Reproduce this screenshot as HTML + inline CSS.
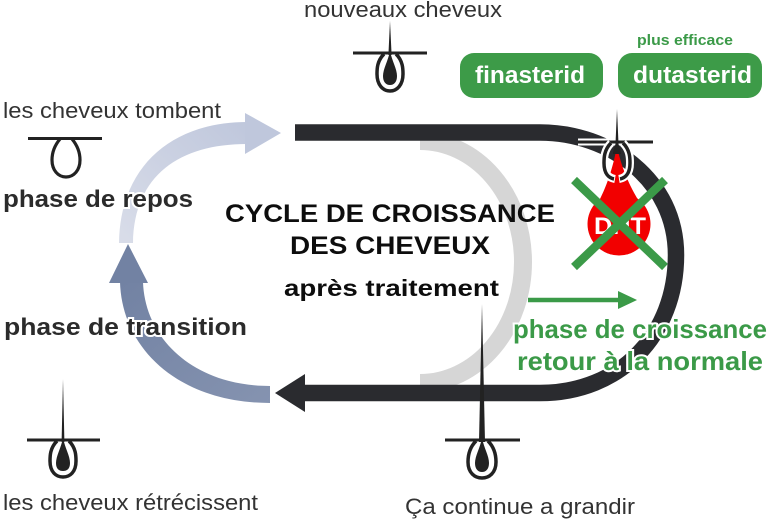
<!DOCTYPE html>
<html><head><meta charset="utf-8"><style>
html,body{margin:0;padding:0;background:#fff;}
svg{display:block;}
text{font-family:"Liberation Sans",sans-serif;}
</style></head><body>
<svg width="771" height="524" viewBox="0 0 771 524" xmlns="http://www.w3.org/2000/svg">
<defs>
<linearGradient id="lb" x1="0" y1="1" x2="1" y2="0">
<stop offset="0" stop-color="#d9dde9"/><stop offset="1" stop-color="#bfc7dc"/>
</linearGradient>
<linearGradient id="db" x1="0" y1="0" x2="1" y2="1">
<stop offset="0" stop-color="#7282a3"/><stop offset="1" stop-color="#8593b0"/>
</linearGradient>
</defs>

<!-- gray inner arc -->
<path d="M420,141 A103,121 0 0 1 420,383" fill="none" stroke="#d6d6d6" stroke-width="18"/>

<!-- black track -->
<path d="M295,132.5 L540,132.5 C610,132.5 676,180 676,255 C676,335 620,393 540,393 L303,393" fill="none" stroke="#2a2b2f" stroke-width="16.5"/>
<polygon points="275,393 305,374 305,412" fill="#2a2b2f"/>

<!-- light blue arc -->
<path d="M119,243 C120,166 172,122 247,122 L247,144 C180,144 134,175 133,243 Z" fill="url(#lb)"/>
<polygon points="245,113 281,133 245,154" fill="#bfc7dc"/>

<!-- dark blue arc -->
<path d="M120,282 C122,350 180,403 270,403 L270,386 C195,386 145,340 143,282 Z" fill="url(#db)"/>
<polygon points="128,244 109,283 148,283" fill="#7282a3"/>

<!-- texts -->
<text x="304" y="17" font-size="22" fill="#333" textLength="198" lengthAdjust="spacingAndGlyphs">nouveaux cheveux</text>
<text x="3" y="118" font-size="22" fill="#333" textLength="218" lengthAdjust="spacingAndGlyphs">les cheveux tombent</text>
<text x="3" y="207" font-size="24" font-weight="bold" fill="#2b2b2b" stroke="#fff" stroke-width="4" paint-order="stroke" textLength="190" lengthAdjust="spacingAndGlyphs">phase de repos</text>
<text x="4" y="335" font-size="24" font-weight="bold" fill="#2b2b2b" stroke="#fff" stroke-width="4" paint-order="stroke" textLength="243" lengthAdjust="spacingAndGlyphs">phase de transition</text>
<text x="3" y="510" font-size="22" fill="#333" textLength="255" lengthAdjust="spacingAndGlyphs">les cheveux rétrécissent</text>
<text x="405" y="514" font-size="22" fill="#333" textLength="230" lengthAdjust="spacingAndGlyphs">Ça continue a grandir</text>

<text x="225" y="222" font-size="25" font-weight="bold" fill="#0d0d0d" textLength="330" lengthAdjust="spacingAndGlyphs">CYCLE DE CROISSANCE</text>
<text x="290" y="254" font-size="25" font-weight="bold" fill="#0d0d0d" textLength="200" lengthAdjust="spacingAndGlyphs">DES CHEVEUX</text>
<text x="284" y="296" font-size="23" font-weight="bold" fill="#0d0d0d" textLength="215" lengthAdjust="spacingAndGlyphs">après traitement</text>

<text x="513" y="338" font-size="26" font-weight="bold" fill="#3b9a48" stroke="#fff" stroke-width="4" paint-order="stroke" textLength="254" lengthAdjust="spacingAndGlyphs">phase de croissance</text>
<text x="517" y="370" font-size="26" font-weight="bold" fill="#3b9a48" stroke="#fff" stroke-width="4" paint-order="stroke" textLength="246" lengthAdjust="spacingAndGlyphs">retour à la normale</text>

<!-- green arrow -->
<line x1="528" y1="300" x2="622" y2="300" stroke="#3b9a48" stroke-width="4.5"/>
<polygon points="618,291 637,300 618,309" fill="#3b9a48"/>

<!-- buttons -->
<text x="637" y="45" font-size="15" font-weight="bold" fill="#3b9a48" textLength="96" lengthAdjust="spacingAndGlyphs">plus efficace</text>
<rect x="460" y="53" width="143" height="45" rx="14" fill="#3d9b48"/>
<rect x="618" y="53" width="144" height="45" rx="14" fill="#3d9b48"/>
<text x="475" y="83" font-size="24" font-weight="bold" fill="#fff" textLength="110" lengthAdjust="spacingAndGlyphs">finasterid</text>
<text x="633" y="83" font-size="24" font-weight="bold" fill="#fff" textLength="119" lengthAdjust="spacingAndGlyphs">dutasterid</text>

<!-- falling hair icon -->
<line x1="28" y1="138.5" x2="102" y2="138.5" stroke="#222" stroke-width="3"/>
<path d="M60,139 C55,145 52,152 52,160 C52,170 58,177 66,177 C74,177 80,170 80,160 C80,152 77,145 72,139" fill="none" stroke="#222" stroke-width="3.2"/>

<!-- follicle: nouveaux cheveux -->
<g transform="translate(390,53)">
<line x1="-37" y1="0" x2="37" y2="0" stroke="#222" stroke-width="3"/>
<polygon points="0,-32 1.6,2 -1.6,2" fill="#222"/>
<path d="M-6,1 C-13,8 -13,16 -13,21 C-13,32 -7,38 0,38 C7,38 13,32 13,21 C13,16 13,8 6,1" fill="none" stroke="#222" stroke-width="3.5"/>
<path d="M0,-2 C-2,8 -7,16 -7,23 C-7,29 -4,32 0,32 C4,32 7,29 7,23 C7,16 2,8 0,-2 Z" fill="#222"/>
</g>

<!-- follicle: bottom-left -->
<g transform="translate(63,440)">
<line x1="-36" y1="0" x2="37" y2="0" stroke="#222" stroke-width="3"/>
<polygon points="0,-61 1.4,2 -1.4,2" fill="#222"/>
<path d="M-6,1 C-13,8 -13,16 -13,21 C-13,32 -7,37 0,37 C7,37 13,32 13,21 C13,16 13,8 6,1" fill="none" stroke="#222" stroke-width="3.5"/>
<path d="M0,-2 C-2,8 -7,16 -7,23 C-7,29 -4,31 0,31 C4,31 7,29 7,23 C7,16 2,8 0,-2 Z" fill="#222"/>
</g>

<!-- follicle: bottom-center -->
<g transform="translate(482,440)">
<line x1="-37" y1="0" x2="38" y2="0" stroke="#222" stroke-width="3"/>
<polygon points="0,-136 3,2 -3,2" fill="#222"/>
<path d="M-6,1 C-13,8 -14,16 -14,22 C-14,33 -7,38 0,38 C7,38 14,33 14,22 C14,16 13,8 6,1" fill="none" stroke="#222" stroke-width="3.5"/>
<path d="M0,-2 C-2,8 -7,16 -7,23 C-7,29 -4,32 0,32 C4,32 7,29 7,23 C7,16 2,8 0,-2 Z" fill="#222"/>
</g>

<!-- DHT follicle -->
<path d="M617,146 C614,162 609,182 598,203 L640,203 C627,182 620,162 617,146 Z" fill="#f20000"/>
<circle cx="619" cy="224" r="31.5" fill="#f20000"/>
<g transform="translate(617,142)">
<line x1="-39" y1="0" x2="36" y2="0" stroke="#fff" stroke-width="7"/>
<line x1="-39" y1="0" x2="36" y2="0" stroke="#222" stroke-width="3"/>
<path d="M-6,1 C-13,8 -13,16 -13,21 C-13,32 -8,36 -2,37 M2,37 C8,36 13,32 13,21 C13,16 13,8 6,1" fill="none" stroke="#fff" stroke-width="8"/>
<path d="M-6,1 C-13,8 -13,16 -13,21 C-13,32 -8,36 -3,37 M3,37 C8,36 13,32 13,21 C13,16 13,8 6,1" fill="none" stroke="#222" stroke-width="3.5"/>
<polygon points="0,-33 1.6,4 -1.6,4" fill="#222"/>
<path d="M0,-2 C-2,4 -4,8 -4,12 L4,12 C4,8 2,4 0,-2 Z" fill="#222"/>
</g>
<text x="620" y="234" font-size="24" font-weight="bold" fill="#fff" text-anchor="middle" textLength="52" lengthAdjust="spacingAndGlyphs">DHT</text>

<!-- green X -->
<line x1="574" y1="180" x2="665" y2="267" stroke="#3b9a48" stroke-width="8.5"/>
<line x1="665" y1="180" x2="574" y2="267" stroke="#3b9a48" stroke-width="8.5"/>
</svg>
</body></html>
